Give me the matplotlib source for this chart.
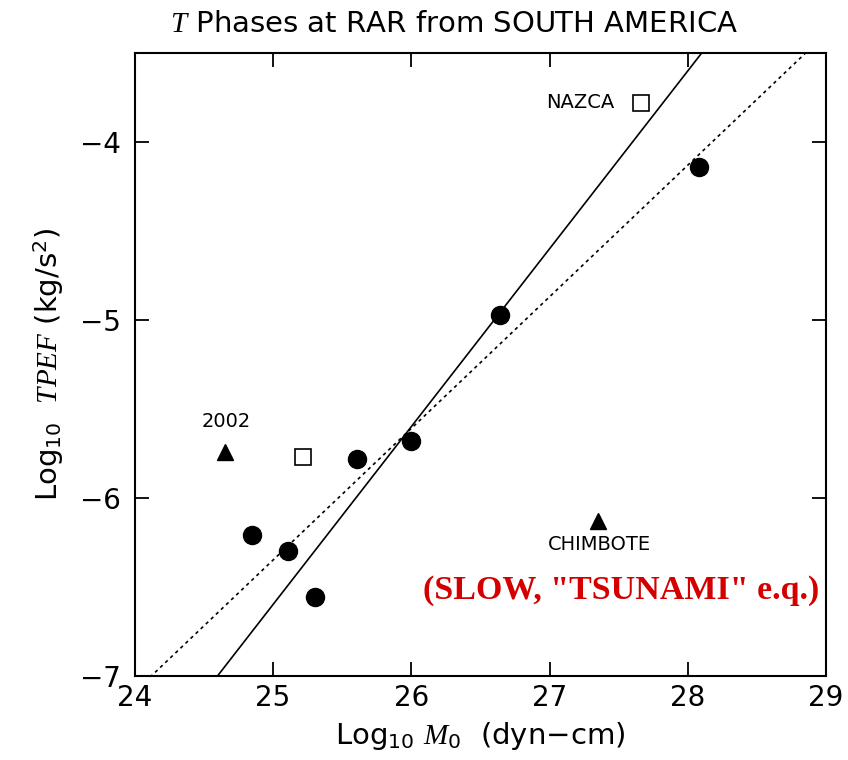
import matplotlib
matplotlib.use("Agg")
import matplotlib.pyplot as plt
import numpy as np

plt.rcParams['font.family'] = 'DejaVu Sans'
plt.rcParams['mathtext.fontset'] = 'custom'
plt.rcParams['mathtext.rm'] = 'DejaVu Sans'
plt.rcParams['mathtext.it'] = 'Liberation Serif:italic'

# normal events (filled circles)
circ_m0 = [24.85, 25.11, 25.30, 25.61, 26.00, 26.64, 28.08]
circ_tpef = [-6.21, -6.30, -6.56, -5.78, -5.68, -4.97, -4.14]
# open squares
sq_m0 = [25.22, 27.66]
sq_tpef = [-5.77, -3.78]
# slow events (triangles)
tri_m0 = [24.65, 27.35]
tri_tpef = [-5.74, -6.13]

# fit lines: slope, intercept
solid_fit = (1.0, -31.6)
dotted_fit = (0.74, -24.85)

fig = plt.figure(figsize=(8.48, 7.6), dpi=100)
ax = fig.add_axes([0.159, 0.111, 0.815, 0.819])

xx = np.array([24.0, 29.0])
ax.plot(xx, solid_fit[0] * xx + solid_fit[1], color='black', lw=1.2)
ax.plot(xx, dotted_fit[0] * xx + dotted_fit[1], color='black', lw=1.2,
        linestyle=(0, (2, 2.2)))

ax.plot(circ_m0, circ_tpef, 'o', color='black', ms=13)
ax.plot(sq_m0, sq_tpef, 's', mfc='white', mec='black', mew=1.2, ms=11)
ax.plot(tri_m0, tri_tpef, '^', color='black', ms=12)

ax.text(27.47, -3.78, 'NAZCA', fontsize=14, ha='right', va='center')
ax.text(24.66, -5.57, '2002', fontsize=14, ha='center', va='center')
ax.text(27.36, -6.26, 'CHIMBOTE', fontsize=14, ha='center', va='center')
ax.text(28.95, -6.52, '(SLOW, "TSUNAMI" e.q.)', fontsize=24.5, color='#d40000',
        fontweight='bold', family='Liberation Serif', ha='right', va='center')

ax.set_xlim(24, 29)
ax.set_ylim(-7, -3.5)
ax.set_xticks([24, 25, 26, 27, 28, 29])
ax.set_yticks([-7, -6, -5, -4])
ax.tick_params(direction='in', length=10, width=1.3, top=True, right=True,
               labelsize=20)
ax.tick_params(axis='y', pad=10)
ax.tick_params(axis='x', pad=6)
for s in ax.spines.values():
    s.set_linewidth(1.5)

ax.set_xlabel(r'Log$_{10}$ $M_{0}$  (dyn$-$cm)', fontsize=21, labelpad=6)
ax.set_ylabel(r'Log$_{10}$  $TPEF$ (kg/s$^{2}$)', fontsize=21, labelpad=10)
fig.text(0.535, 0.969, r'$T$ Phases at RAR from SOUTH AMERICA', fontsize=21,
         ha='center', va='center')

fig.savefig('out.png', dpi=100)
